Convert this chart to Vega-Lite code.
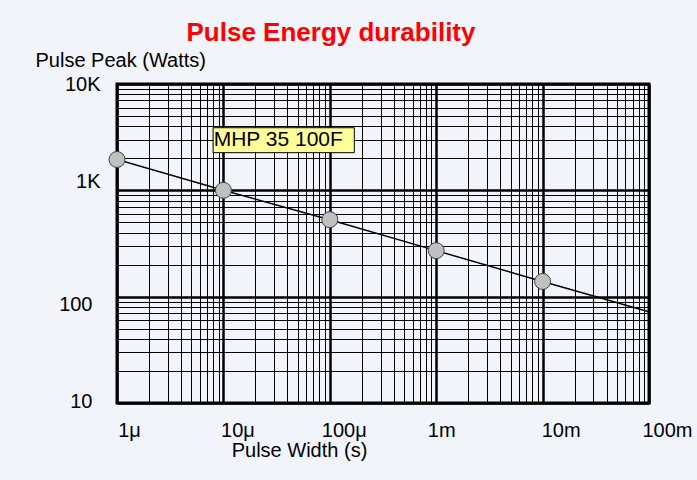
{
  "$schema": "https://vega.github.io/schema/vega-lite/v6.json",
  "autosize": "none",
  "width": 532,
  "height": 319,
  "padding": {"left": 117, "top": 84, "right": 48, "bottom": 77},
  "background": "#f1f4fa",
  "title": {
    "text": "Pulse Energy durability",
    "color": "#ff0000",
    "font": "Liberation Sans",
    "fontSize": 26,
    "fontWeight": "bold",
    "anchor": "middle",
    "dx": -52
  },
  "datasets": {
    "curve": [
      {"width": 0.000001, "peak": 1950},
      {"width": 0.00001, "peak": 1000},
      {"width": 0.0001, "peak": 530},
      {"width": 0.001, "peak": 271},
      {"width": 0.01, "peak": 139},
      {"width": 0.1, "peak": 72}
    ],
    "points": [
      {"width": 0.000001, "peak": 1950},
      {"width": 0.00001, "peak": 1000},
      {"width": 0.0001, "peak": 530},
      {"width": 0.001, "peak": 271},
      {"width": 0.01, "peak": 139}
    ],
    "label": [
      {"x0": 0.0000080, "x1": 0.000170, "y0": 2260, "y1": 3880, "tx": 0.0000081, "ty": 2960, "text": "MHP 35 100F"}
    ]
  },
  "encoding": {
    "x": {
      "field": "width", "type": "quantitative",
      "scale": {"type": "log", "domain": [0.000001, 0.1], "nice": false},
      "axis": {
        "title": "Pulse Width (s)",
        "titleFont": "Liberation Sans", "titleFontSize": 20, "titleFontWeight": "normal", "titleColor": "#000000",
        "titleX": 182, "titleY": 47, "titleBaseline": "middle", "titleAlign": "center",
        "values": [0.000001,0.000002,0.000003,0.000004,0.000005,0.000006,0.000007,0.000008,0.000009,
                   0.00001,0.00002,0.00003,0.00004,0.00005,0.00006,0.00007,0.00008,0.00009,
                   0.0001,0.0002,0.0003,0.0004,0.0005,0.0006,0.0007,0.0008,0.0009,
                   0.001,0.002,0.003,0.004,0.005,0.006,0.007,0.008,0.009,
                   0.01,0.02,0.03,0.04,0.05,0.06,0.07,0.08,0.09,0.1],
        "labelExpr": "datum.value == 1e-6 ? '1μ' : datum.value == 1e-5 ? '10μ' : datum.value == 1e-4 ? '100μ' : datum.value == 1e-3 ? '1m' : datum.value == 1e-2 ? '10m' : datum.value == 1e-1 ? '100m' : ''",
        "labelFont": "Liberation Sans", "labelFontSize": 20, "labelColor": "#000000",
        "labelPadding": 17,
        "labelOffset": {"condition": [
          {"test": "datum.value == 1e-6", "value": 12},
          {"test": "datum.value == 1e-3", "value": 5},
          {"test": "datum.value >= 1e-2", "value": 18}
        ], "value": 14},
        "labelOverlap": false, "labelFlush": false, "labelBound": false,
        "ticks": false, "domain": false,
        "grid": true, "gridColor": "#000000", "gridOpacity": 1,
        "gridWidth": {"condition": {"test": "indexof([1e-6,1e-5,1e-4,1e-3,1e-2,1e-1], datum.value) >= 0", "value": 2.5}, "value": 1}
      }
    },
    "y": {
      "field": "peak", "type": "quantitative",
      "scale": {"type": "log", "domain": [10, 10000], "nice": false},
      "axis": {
        "title": "Pulse Peak (Watts)",
        "titleFont": "Liberation Sans", "titleFontSize": 20, "titleFontWeight": "normal", "titleColor": "#000000",
        "titleAngle": 0, "titleAlign": "left", "titleBaseline": "middle", "titleX": -82, "titleY": -24,
        "values": [10,20,30,40,50,60,70,80,90,100,200,300,400,500,600,700,800,900,1000,2000,3000,4000,5000,6000,7000,8000,9000,10000],
        "labelExpr": "datum.value == 10 ? '10' : datum.value == 100 ? '100' : datum.value == 1000 ? '1K' : datum.value == 10000 ? '10K' : ''",
        "labelFont": "Liberation Sans", "labelFontSize": 20, "labelColor": "#000000",
        "labelPadding": {"condition": {"test": "datum.value <= 100", "value": 25}, "value": 17},
        "labelOffset": {"condition": [
          {"test": "datum.value == 1000", "value": -9},
          {"test": "datum.value == 100", "value": 8},
          {"test": "datum.value == 10", "value": -2}
        ], "value": 0},
        "labelOverlap": false, "labelBound": false,
        "ticks": false, "domain": false,
        "grid": true, "gridColor": "#000000", "gridOpacity": 1,
        "gridWidth": {"condition": {"test": "indexof([10,100,1000,10000], datum.value) >= 0", "value": 2.5}, "value": 1}
      }
    }
  },
  "layer": [
    {
      "data": {"name": "label"},
      "mark": {"type": "rect", "fill": "#ffff99", "stroke": "#000000", "strokeWidth": 1},
      "encoding": {
        "x": {"field": "x0", "type": "quantitative"},
        "x2": {"field": "x1"},
        "y": {"field": "y0", "type": "quantitative"},
        "y2": {"field": "y1"}
      }
    },
    {
      "data": {"name": "label"},
      "mark": {"type": "text", "align": "left", "baseline": "middle", "font": "Liberation Sans", "fontSize": 21, "color": "#000000"},
      "encoding": {
        "x": {"field": "tx", "type": "quantitative"},
        "y": {"field": "ty", "type": "quantitative"},
        "text": {"field": "text"}
      }
    },
    {
      "data": {"name": "curve"},
      "mark": {"type": "line", "color": "#000000", "strokeWidth": 1.5, "clip": true}
    },
    {
      "data": {"name": "points"},
      "mark": {"type": "point", "shape": "circle", "filled": true, "fill": "#c0c0c0", "stroke": "#404040", "strokeWidth": 1, "size": 256, "opacity": 1}
    }
  ],
  "config": {
    "view": {"stroke": "#000000", "strokeWidth": 3, "fill": "#f1f4fa"}
  }
}
